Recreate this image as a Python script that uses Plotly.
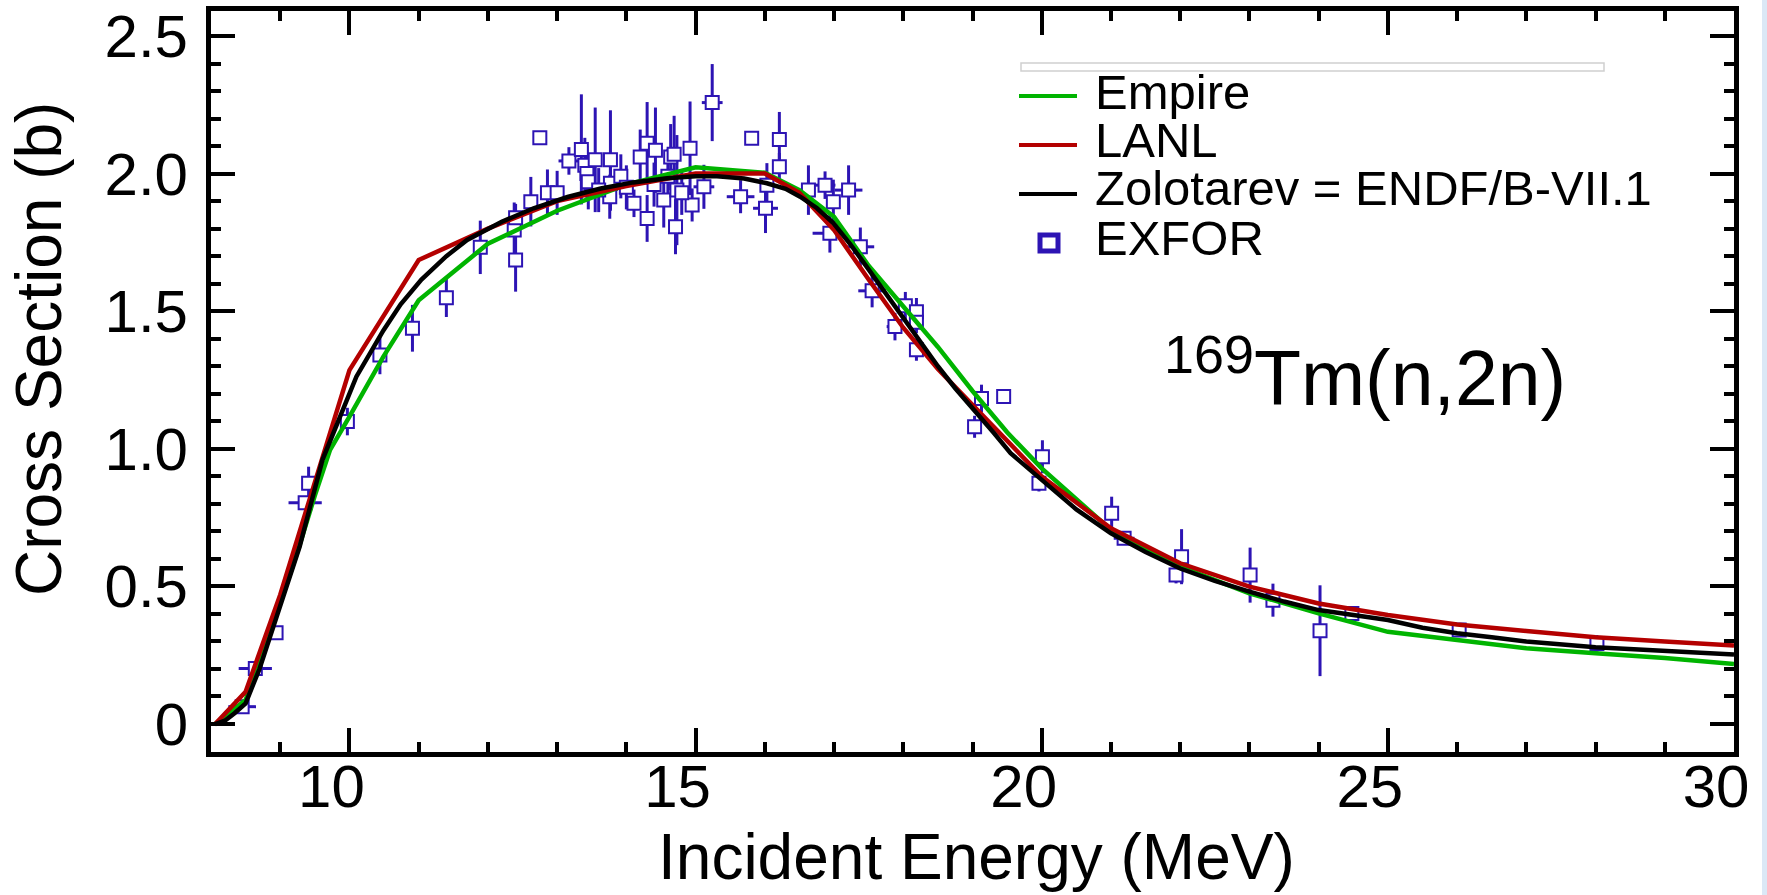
import plotly.graph_objects as go

# ---------------- data ----------------
empire_e = [8.06, 8.5, 8.84, 9.28, 9.5, 9.72, 10.0, 10.49, 11.0, 12.0, 13.0, 14.0, 15.0, 16.0,
            16.5, 17.0, 17.5, 18.0, 18.5, 19.0, 19.5, 20.0, 21.0, 22.0, 23.0, 24.0, 25.0,
            26.0, 27.0, 28.0, 29.0, 30.0]
empire_s = [0.0, 0.087, 0.317, 0.65, 0.83, 0.996, 1.117, 1.335, 1.54, 1.745, 1.865, 1.96, 2.023,
            2.003, 1.94, 1.843, 1.665, 1.515, 1.37, 1.21, 1.06, 0.929, 0.705, 0.572, 0.475,
            0.402, 0.335, 0.305, 0.275, 0.257, 0.24, 0.218]

lanl_e = [8.06, 8.5, 9.0, 9.5, 10.0, 11.0, 12.0, 13.0, 14.0, 15.0, 16.0, 16.5, 17.0, 17.5,
          18.0, 18.5, 19.0, 19.5, 20.0, 21.0, 22.0, 23.0, 24.0, 25.0, 26.0, 27.0, 28.0, 29.0, 30.0]
lanl_s = [0.0, 0.117, 0.47, 0.88, 1.286, 1.686, 1.80, 1.90, 1.955, 2.0, 2.0, 1.93, 1.795, 1.615,
          1.44, 1.29, 1.16, 1.03, 0.899, 0.711, 0.584, 0.499, 0.438, 0.396, 0.362, 0.338,
          0.315, 0.30, 0.285]

zol_e = [8.06, 8.2, 8.34, 8.5, 8.7, 8.84, 9.0, 9.28, 9.61, 10.1, 10.49, 10.74, 11.04, 11.4,
         11.7, 12.2, 12.66, 13.15, 13.63, 14.1, 14.59, 15.0, 15.31, 15.7, 16.03, 16.3, 16.51,
         16.75, 16.99, 17.23, 17.47, 17.7, 17.95, 18.2, 18.5, 18.75, 19.0, 19.3, 19.55, 20.0,
         20.5, 21.0, 21.5, 22.0, 22.5, 23.0, 23.5, 24.0, 24.5, 25.0, 25.5, 26.0, 26.5, 27.0,
         28.0, 29.0, 30.0]
zol_s = [0.0, 0.012, 0.039, 0.075, 0.2, 0.305, 0.43, 0.644, 0.96, 1.262, 1.43, 1.525, 1.615,
         1.70, 1.759, 1.825, 1.874, 1.915, 1.946, 1.968, 1.983, 1.99, 1.99, 1.982, 1.965, 1.945,
         1.916, 1.875, 1.82, 1.745, 1.662, 1.58, 1.49, 1.40, 1.30, 1.22, 1.15, 1.06, 0.984,
         0.887, 0.78, 0.693, 0.625, 0.565, 0.52, 0.481, 0.445, 0.414, 0.395, 0.378, 0.35, 0.33,
         0.315, 0.30, 0.279, 0.265, 0.253]

exfor_e = [8.45, 8.64, 8.94, 9.36, 9.41, 9.97, 10.44, 10.91, 11.40, 11.89, 12.40, 12.38, 12.40,
           12.62, 12.75, 12.86, 13.00, 13.17, 13.35, 13.40, 13.43, 13.45, 13.55, 13.77, 13.77,
           13.76, 13.92, 14.11, 14.20, 14.30, 14.30, 14.42, 14.54, 14.64, 14.69, 14.71, 14.73,
           14.92, 14.95, 15.12, 15.24, 15.65, 15.81, 16.01, 16.03, 16.21, 16.21, 16.63, 16.87,
           16.99, 17.21, 16.94, 17.38, 17.55, 17.88, 18.03, 18.19, 18.19, 18.19, 19.03, 19.13,
           19.45, 20.01, 19.96, 21.01, 21.19, 22.02, 21.94, 23.01, 23.34, 24.02, 24.48, 26.03,
           28.02, 13.6, 14.0, 14.4, 14.6, 14.8]
exfor_s = [0.063, 0.202, 0.332, 0.804, 0.875, 1.099, 1.341, 1.438, 1.549, 1.732, 1.686, 1.795,
           1.84, 1.898, 2.13, 1.93, 1.93, 2.046, 2.088, 2.03, 2.0, 1.97, 2.05, 2.05, 1.965,
           1.916, 1.99, 1.892, 2.06, 2.11, 1.837, 2.085, 1.904, 2.06, 2.07, 1.807, 1.94,
           2.092, 1.886, 1.952, 2.258, 1.916, 2.128, 1.874, 1.958, 2.124, 2.025, 1.94, 1.958,
           1.898, 1.94, 1.783, 1.734, 1.574, 1.444, 1.52, 1.498, 1.46, 1.36, 1.08, 1.183,
           1.19, 0.971, 0.875, 0.766, 0.675, 0.608, 0.541, 0.541, 0.45, 0.339, 0.402, 0.342,
           0.293, 1.94, 1.95, 1.96, 1.99, 1.93]
exfor_ds = [0.0, 0.0, 0.0, 0.0, 0.06, 0.05, 0.07, 0.085, 0.07, 0.097, 0.115, 0.1, 0.05, 0.09,
            0.0, 0.085, 0.08, 0.05, 0.2, 0.1, 0.1, 0.1, 0.19, 0.18, 0.1, 0.08, 0.08, 0.05, 0.1,
            0.15, 0.085, 0.155, 0.1, 0.12, 0.14, 0.1, 0.2, 0.17, 0.06, 0.08, 0.14, 0.06, 0.0,
            0.09, 0.08, 0.1, 0.05, 0.09, 0.05, 0.08, 0.09, 0.07, 0.07, 0.06, 0.05, 0.05, 0.05,
            0.04, 0.04, 0.04, 0.05, 0.0, 0.06, 0.03, 0.06, 0.02, 0.1, 0.03, 0.1, 0.06, 0.165,
            0.02, 0.02, 0.03, 0.08, 0.08, 0.08, 0.1, 0.08]
exfor_de = [0.2, 0.24, 0.0, 0.24, 0.0, 0.0, 0.0, 0.0, 0.0, 0.0, 0.0, 0.0, 0.1, 0.0, 0.0, 0.0,
            0.0, 0.15, 0.0, 0.0, 0.0, 0.0, 0.0, 0.0, 0.0, 0.0, 0.0, 0.0, 0.0, 0.0, 0.0, 0.0,
            0.0, 0.0, 0.0, 0.0, 0.0, 0.0, 0.0, 0.15, 0.15, 0.2, 0.0, 0.18, 0.0, 0.0, 0.0, 0.0,
            0.15, 0.0, 0.2, 0.25, 0.2, 0.2, 0.12, 0.0, 0.0, 0.0, 0.05, 0.0, 0.0, 0.0, 0.0, 0.0,
            0.0, 0.15, 0.0, 0.0, 0.0, 0.0, 0.0, 0.0, 0.0, 0.0, 0.0, 0.0, 0.0, 0.0, 0.0]

x_ticks = [10, 15, 20, 25, 30]
y_ticks = [0, 0.5, 1.0, 1.5, 2.0, 2.5]
y_tick_text = ["0", "0.5", "1.0", "1.5", "2.0", "2.5"]
legend_names = ["Empire", "LANL", "Zolotarev = ENDF/B-VII.1", "EXFOR"]

# ---------------- style ----------------
GREEN = "#00b400"
RED = "#b40000"
BLACK = "#000000"
BLUE = "#2d14b4"
FONT = "Liberation Sans, Arial, Helvetica, sans-serif"

W, H = 1767, 895
PL, PR, PT, PB = 211, 1734, 11, 752


def px(x):
    return (x - PL) / (PR - PL)


def py(y):
    return (PB - y) / (PB - PT)


fig = go.Figure()

fig.add_trace(go.Scatter(
    x=exfor_e, y=exfor_s, mode="markers", name=legend_names[3],
    marker=dict(symbol="square", size=13, color="white", line=dict(color=BLUE, width=2)),
    error_y=dict(type="data", array=exfor_ds, color=BLUE, thickness=3, width=0),
    error_x=dict(type="data", array=exfor_de, color=BLUE, thickness=3, width=0),
))
fig.add_trace(go.Scatter(x=empire_e, y=empire_s, mode="lines", name=legend_names[0],
                         line=dict(color=GREEN, width=4.5)))
fig.add_trace(go.Scatter(x=lanl_e, y=lanl_s, mode="lines", name=legend_names[1],
                         line=dict(color=RED, width=4.5)))
fig.add_trace(go.Scatter(x=zol_e, y=zol_s, mode="lines", name=legend_names[2],
                         line=dict(color=BLACK, width=4.5)))

axis_common = dict(
    ticks="inside", ticklen=24, tickwidth=4, tickcolor="black",
    showline=True, linewidth=5, linecolor="black", mirror="ticks",
    showgrid=False, zeroline=False, automargin=False,
    tickfont=dict(size=60, color="black", family=FONT),
)
fig.update_xaxes(range=[8, 30], tickmode="array", tickvals=x_ticks,
                 ticktext=[str(v) for v in x_ticks], ticklabelshift=-18,
                 ticklabelstandoff=-22,
                 minor=dict(ticks="inside", ticklen=10, tickwidth=4, tickcolor="black",
                            dtick=1, tick0=0, showgrid=False),
                 **axis_common)
fig.update_yaxes(range=[-0.1017, 2.5908], tickmode="array", tickvals=y_ticks,
                 ticktext=y_tick_text, ticklabelstandoff=6,
                 minor=dict(ticks="inside", ticklen=10, tickwidth=4, tickcolor="black",
                            dtick=0.1, tick0=0, showgrid=False),
                 **axis_common)

annotations = [
    dict(text="Incident Energy (MeV)", x=px(976), y=py(857), xref="paper", yref="paper",
         xanchor="center", yanchor="middle", showarrow=False,
         font=dict(size=64, family=FONT, color="black")),
    dict(text="Cross Section (b)", x=px(39), y=py(349), xref="paper", yref="paper",
         xanchor="center", yanchor="middle", showarrow=False, textangle=-90,
         font=dict(size=64, family=FONT, color="black")),
    dict(text="<sup>169</sup>Tm(n,2n)", x=px(1365), y=py(372), xref="paper", yref="paper",
         xanchor="center", yanchor="middle", showarrow=False,
         font=dict(size=77, family=FONT, color="black")),
]
legend_rows = [92, 140, 188, 238]
for name, yy in zip(legend_names, legend_rows):
    annotations.append(dict(text=name, x=px(1093), y=py(yy), xref="paper", yref="paper",
                            xanchor="left", yanchor="middle", showarrow=False,
                            font=dict(size=49, family=FONT, color="black")))

shapes = [
    # thin empty box above legend
    dict(type="rect", xref="paper", yref="paper", x0=px(1021), x1=px(1604), y0=py(71), y1=py(63),
         line=dict(color="#d0d0d0", width=1.5), fillcolor="white", layer="above"),
    # light strip at right edge
    dict(type="rect", xref="paper", yref="paper", x0=px(1762), x1=px(1770), y0=py(900), y1=py(-5),
         line=dict(width=0), fillcolor="#dbe8f6", layer="above"),
]
line_cols = [GREEN, RED, BLACK]
line_rows = [96, 145, 194]
for c, yy in zip(line_cols, line_rows):
    shapes.append(dict(type="line", xref="paper", yref="paper", x0=px(1019), x1=px(1077),
                       y0=py(yy), y1=py(yy), line=dict(color=c, width=4), layer="above"))
shapes.append(dict(type="rect", xref="paper", yref="paper", x0=px(1040), x1=px(1058),
                   y0=py(251), y1=py(235), line=dict(color=BLUE, width=5),
                   fillcolor="white", layer="above"))

fig.update_layout(
    width=W, height=H,
    margin=dict(l=PL, r=W - PR, t=PT, b=H - PB),
    plot_bgcolor="white", paper_bgcolor="white",
    showlegend=False,
    font=dict(family=FONT, color="black"),
    annotations=annotations, shapes=shapes,
)

fig.write_html("out.html")
